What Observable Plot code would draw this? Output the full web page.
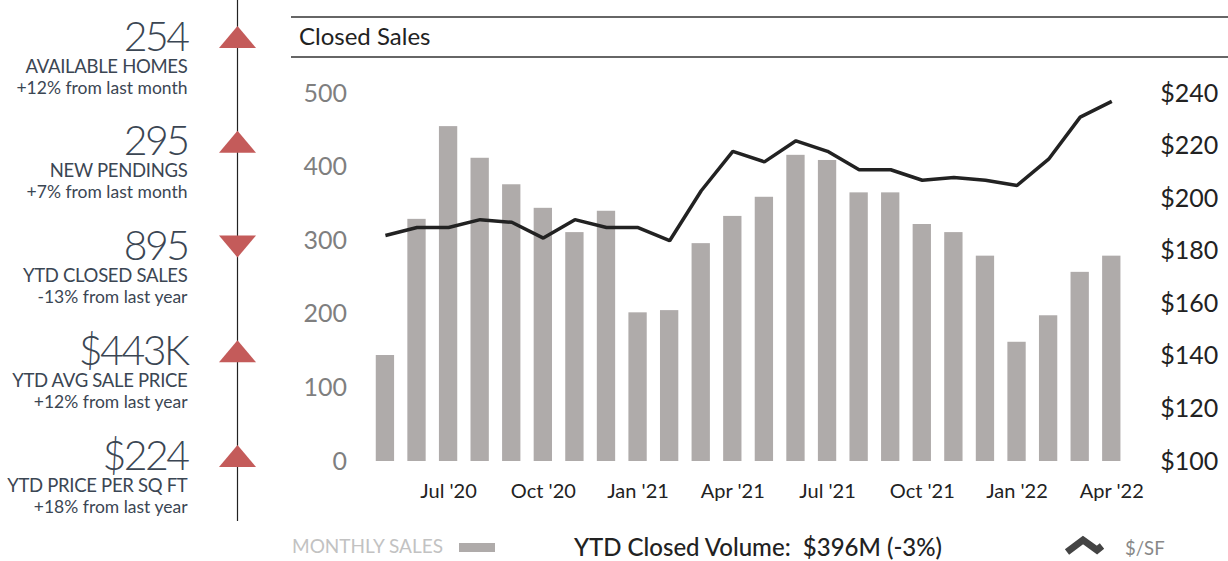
<!DOCTYPE html>
<html>
<head>
<meta charset="utf-8">
<script src="https://cdn.jsdelivr.net/npm/d3@7"></script>
<script src="https://cdn.jsdelivr.net/npm/@observablehq/plot@0.6"></script>
<style>
  html, body { margin: 0; padding: 0; background: #fff; }
  #root { position: relative; width: 1228px; height: 561px; overflow: hidden; font-family: Lato, "Open Sans", sans-serif; }
  #left { position: absolute; left: 0; top: 0; }
  #chart { position: absolute; left: 290px; top: 60px; }
  #deco { position: absolute; left: 0; top: 0; }
  #left g[font-size="41"] text { letter-spacing: -2.5px; }
  #left g[font-size="18.5"] text { letter-spacing: -0.3px; }
</style>
</head>
<body>
<div id="root">
  <svg id="deco" width="1228" height="561" font-family="Lato, sans-serif">
    <line x1="291" x2="1228" y1="17" y2="17" stroke="#333" stroke-width="1.4"/>
    <line x1="291" x2="1228" y1="57" y2="57" stroke="#333" stroke-width="1.4"/>
    <text x="299" y="45" font-size="24" fill="#222">Closed Sales</text>
    <text x="292" y="553" font-size="19" fill="#c2c2c2">MONTHLY SALES</text>
    <rect x="459" y="543" width="36" height="9" fill="#afabaa"/>
    <text x="758" y="556" font-size="24" font-weight="500" fill="#222" text-anchor="middle" xml:space="preserve">YTD Closed Volume:  $396M (-3%)</text>
    <polyline points="1067,552 1083,540 1097,550 1102,546" fill="none" stroke="#444" stroke-width="7" stroke-linejoin="miter"/>
    <text x="1125" y="555" font-size="18.5" fill="#888">$/SF</text>
  </svg>
  <div id="left"></div>
  <div id="chart"></div>
</div>
<script>
// ---- Data ----
const statValues  = ["254", "295", "895", "$443K", "$224"];
const statLabels  = ["AVAILABLE HOMES", "NEW PENDINGS", "YTD CLOSED SALES", "YTD AVG SALE PRICE", "YTD PRICE PER SQ FT"];
const statChanges = ["+12% from last month", "+7% from last month", "-13% from last year", "+12% from last year", "+18% from last year"];
const statDirs    = ["up", "up", "down", "up", "up"];

const months = ["May '20","Jun '20","Jul '20","Aug '20","Sep '20","Oct '20","Nov '20","Dec '20",
                "Jan '21","Feb '21","Mar '21","Apr '21","May '21","Jun '21","Jul '21","Aug '21",
                "Sep '21","Oct '21","Nov '21","Dec '21","Jan '22","Feb '22","Mar '22","Apr '22"];
const sales = [144,329,455,412,376,344,311,340,202,205,296,333,359,416,409,365,365,322,311,279,162,198,257,279];
const pricePerSqft = [186,189,189,192,191,185,192,189,189,184,203,218,214,222,218,211,211,207,208,207,205,215,231,237];
const xTicks = ["Jul '20","Oct '20","Jan '21","Apr '21","Jul '21","Oct '21","Jan '22","Apr '22"];
const salesTicks = [0,100,200,300,400,500];
const priceTicks = [100,120,140,160,180,200,220,240];

// ---- Left panel ----
const stats = statValues.map((v, i) => ({i, value: v, label: statLabels[i], change: statChanges[i], dir: statDirs[i]}));
const triUp = {draw(ctx) { ctx.moveTo(0, -11); ctx.lineTo(18.5, 11); ctx.lineTo(-18.5, 11); ctx.closePath(); }};
const triDown = {draw(ctx) { ctx.moveTo(0, 11); ctx.lineTo(18.5, -11); ctx.lineTo(-18.5, -11); ctx.closePath(); }};
const statColor = "#3b4653";
const left = Plot.plot({
  width: 290, height: 561,
  margin: 0, marginRight: 103, marginBottom: 40,
  style: {background: "transparent", fontFamily: "Lato, sans-serif", overflow: "visible"},
  x: {domain: [0, 1], axis: null},
  y: {domain: [0, 4], range: [50, 469], axis: null},
  marks: [
    Plot.ruleX([1], {dx: 50, stroke: "#222", strokeWidth: 1.2}),
    Plot.dot(stats.filter(d => d.dir === "up"), {y: "i", frameAnchor: "right", dx: 50, dy: -13.5, symbol: triUp, r: 10, fill: "#c45b5a", stroke: null}),
    Plot.dot(stats.filter(d => d.dir === "down"), {y: "i", frameAnchor: "right", dx: 50, dy: -13.5, symbol: triDown, r: 10, fill: "#c45b5a", stroke: null}),
    Plot.text(stats, {y: "i", text: "value", frameAnchor: "right", textAnchor: "end", lineAnchor: "bottom", fontSize: 41, fontWeight: 300, fill: statColor}),
    Plot.text(stats, {y: "i", text: "label", frameAnchor: "right", textAnchor: "end", lineAnchor: "bottom", dy: 22, fontSize: 18.5, fill: statColor}),
    Plot.text(stats, {y: "i", text: "change", frameAnchor: "right", textAnchor: "end", lineAnchor: "bottom", dy: 43, fontSize: 17.5, fill: statColor})
  ]
});
document.getElementById("left").append(left);

// ---- Main chart ----
const toY = v => (v - 100) / 140 * 500;
const fromY = y => 100 + y * 140 / 500;
const rows = months.map((m, i) => ({month: m, sales: sales[i], psf: pricePerSqft[i]}));

const chart = Plot.plot({
  width: 938, height: 460,
  marginLeft: 72.5, marginRight: 94.3, marginTop: 33, marginBottom: 59,
  style: {background: "transparent", fontFamily: "Lato, sans-serif", overflow: "visible"},
  x: {domain: months, padding: 0.42, round: false},
  y: {domain: [0, 500]},
  marks: [
    Plot.barY(rows, {x: "month", y: "sales", fill: "#afabaa"}),
    Plot.line(rows, {x: "month", y: d => toY(d.psf), stroke: "#222", strokeWidth: 3.5, strokeLinejoin: "miter", strokeLinecap: "butt"}),
    Plot.axisY({ticks: salesTicks, tickSize: 0, tickPadding: 16, fontSize: 25, fill: "#7f7f7f", label: null}),
    Plot.axisY({anchor: "right", ticks: priceTicks.map(toY), tickFormat: d => "$" + Math.round(fromY(d)), tickSize: 0, tickPadding: 26, fontSize: 25, fill: "#222", label: null}),
    Plot.axisX({ticks: xTicks, tickSize: 0, tickPadding: 22, fontSize: 20, fill: "#222", label: null})
  ]
});
document.getElementById("chart").append(chart);
</script>
</body>
</html>
